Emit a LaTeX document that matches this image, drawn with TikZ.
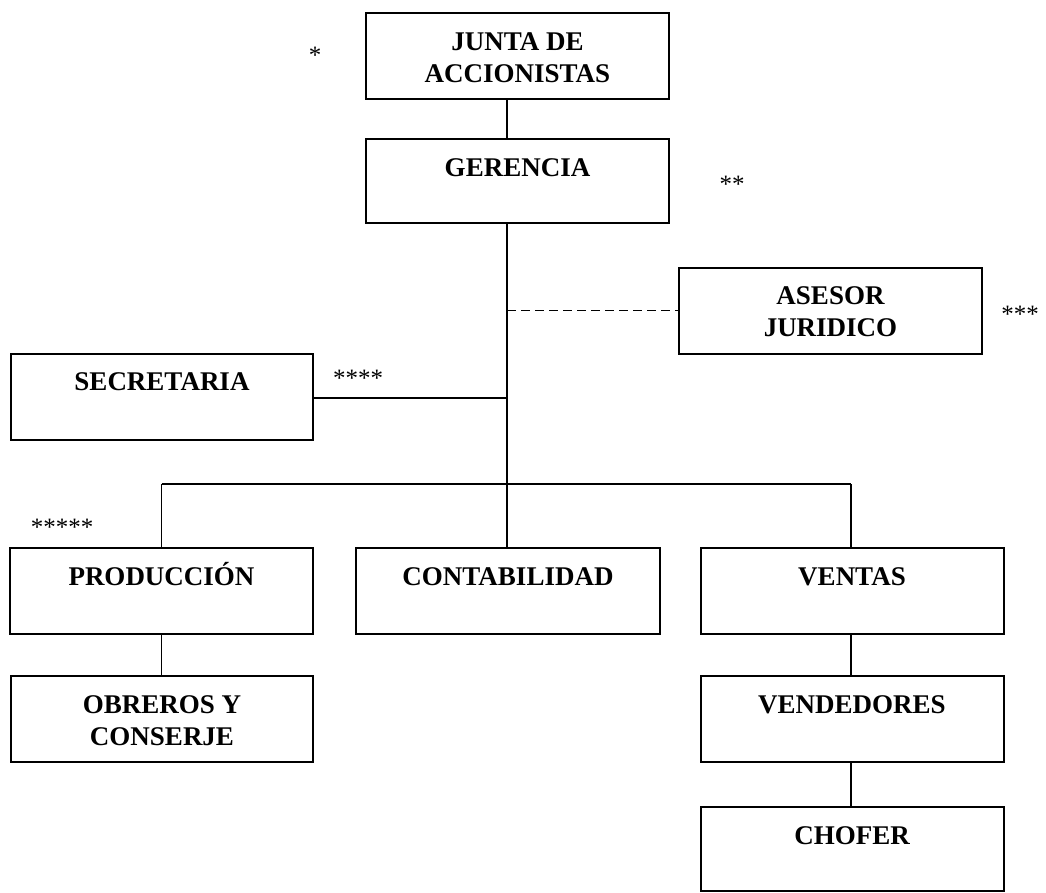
\documentclass[tikz,border=0pt]{standalone}
\usepackage{fontspec}
\setmainfont{Liberation Serif}
\begin{document}
\begin{tikzpicture}[x=1pt,y=-1pt,
  box/.style={draw, line width=2pt, inner sep=0pt, minimum width=303pt, minimum height=86pt},
  lab/.style={anchor=base, inner sep=0pt, font=\fontsize{27}{32}\selectfont\bfseries},
  lone/.style={label={[lab, yshift=-38pt]north:{#1}}},
  ltwo/.style={label={[lab, yshift=-70pt]north:{#1}}},
  conn/.style={line width=1.5pt},
  star/.style={inner sep=0pt, font=\fontsize{25}{25}\selectfont}]
\useasboundingbox (0,0) rectangle (1046,892);
\node[box, lone={JUNTA DE}, ltwo={ACCIONISTAS}] (junta) at (517.5,56) {};
\node[box, minimum height=84pt, lone={GERENCIA}] (ger) at (517.5,181) {};
\node[box, lone={ASESOR}, ltwo={JURIDICO}] (ases) at (830.5,310.5) {};
\node[box, minimum width=302pt, lone={SECRETARIA}] (secr) at (162,396.5) {};
\node[box, lone={PRODUCCIÓN}] (prod) at (161.5,591) {};
\node[box, minimum width=304pt, lone={CONTABILIDAD}] (cont) at (508,591) {};
\node[box, lone={VENTAS}] (vent) at (852,591) {};
\node[box, minimum width=302pt, lone={OBREROS Y}, ltwo={CONSERJE}] (obre) at (162,719) {};
\node[box, lone={VENDEDORES}] (vend) at (852,719) {};
\node[box, minimum height=84pt, lone={CHOFER}] (chof) at (852,849) {};
\coordinate (trunk) at (507,0);
\coordinate (busl) at (161.5,484);
\coordinate (busr) at (851,484);
\coordinate (busm) at (507,484);
\draw[conn] (junta.south -| trunk) -- (ger.north -| trunk);
\draw[conn] (ger.south -| trunk) -- (busm);
\draw[conn, dash pattern=on 9pt off 5pt] (ases.west -| trunk) -- (ases.west);
\draw[conn] (secr.east |- 0,398) coordinate (se) -- (se -| trunk);
\draw[conn] (busl) -- (busr);
\draw[conn] (busl) -- (prod.north -| busl);
\draw[conn] (busm) -- (cont.north -| busm);
\draw[conn] (busr) -- (vent.north -| busr);
\draw[conn] (prod.south -| busl) -- (obre.north -| busl);
\draw[conn] (vent.south -| busr) -- (vend.north -| busr);
\draw[conn] (vend.south -| busr) -- (chof.north -| busr);
\node[star] (s1) at (315,55) {*};
\node[star] (s2) at (732,184) {**};
\node[star] (s3) at (1020,314) {***};
\node[star] (s4) at (358,378) {****};
\node[star] (s5) at (62,527) {*****};
\end{tikzpicture}
\end{document}
